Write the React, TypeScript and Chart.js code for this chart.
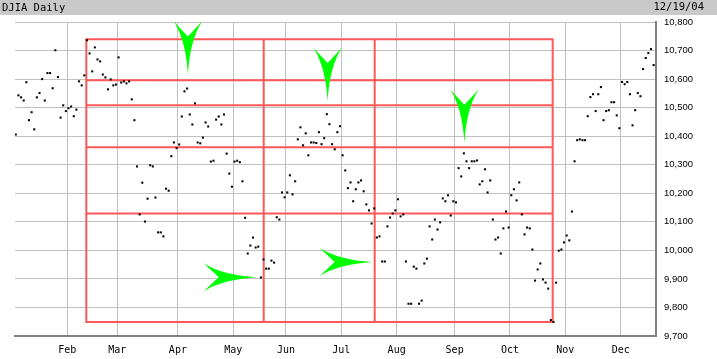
import React, { useEffect, useRef } from "react";
import { Chart, registerables } from "chart.js";

Chart.register(...registerables);

// ---- text ----
const TITLE = "DJIA Daily";
const DATE_LABEL = "12/19/04";
const MONTH_LABELS = ["Jan", "Feb", "Mar", "Apr", "May", "Jun", "Jul", "Aug", "Sep", "Oct", "Nov", "Dec"];

// ---- daily closes (trading days) ----
const jan = [10406, 10543, 10536, 10525, 10589, 10456, 10484, 10424, 10536, 10551, 10600, 10525, 10621, 10621, 10568, 10701, 10607, 10465, 10508, 10488];
const feb = [10498, 10504, 10470, 10493, 10592, 10578, 10613, 10736, 10690, 10627, 10711, 10669, 10662, 10616, 10606, 10564, 10599, 10578, 10581];
const mar = [10676, 10588, 10592, 10585, 10592, 10529, 10456, 10294, 10126, 10237, 10101, 10181, 10298, 10294, 10185, 10063, 10063, 10049, 10216, 10209, 10330, 10378, 10358];
const apr = [10371, 10469, 10557, 10567, 10476, 10441, 10515, 10378, 10375, 10395, 10448, 10434, 10311, 10314, 10458, 10469, 10441, 10476, 10339, 10269, 10223];
const may = [10311, 10314, 10309, 10242, 10114, 9989, 10017, 10045, 10010, 10013, 9905, 9968, 9936, 9936, 9964, 9957, 10116, 10108, 10203, 10186];
const jun = [10203, 10263, 10196, 10242, 10389, 10431, 10368, 10410, 10333, 10378, 10378, 10376, 10414, 10372, 10393, 10477, 10442, 10372, 10354, 10414, 10435];
const jul = [10333, 10280, 10218, 10238, 10172, 10214, 10238, 10245, 10207, 10161, 10140, 10094, 10147, 10045, 10049, 9961, 9961, 10084, 10115, 10129, 10140];
const aug = [10179, 10119, 10126, 9961, 9813, 9813, 9943, 9936, 9813, 9824, 9954, 9971, 10084, 10038, 10108, 10073, 10098, 10182, 10172, 10193, 10122, 10172];
const sep = [10168, 10288, 10259, 10340, 10312, 10288, 10312, 10312, 10315, 10231, 10242, 10284, 10203, 10245, 10108, 10038, 10045, 9989, 10077, 10136, 10080];
const oct = [10193, 10214, 10175, 10238, 10126, 10056, 10080, 10077, 10003, 9894, 9933, 9954, 9898, 9887, 9866, 9756, 9749, 9887, 9999, 10003, 10028];
const nov = [10052, 10035, 10136, 10312, 10386, 10389, 10386, 10386, 10470, 10537, 10547, 10488, 10547, 10572, 10456, 10488, 10491, 10519, 10519, 10473, 10428];
const dec = [10590, 10582, 10590, 10547, 10438, 10491, 10551, 10540, 10635, 10674, 10691, 10705, 10649];

const MONTHS = [jan, feb, mar, apr, may, jun, jul, aug, sep, oct, nov, dec];

// ---- y axis ----
const Y_MIN = 9700;
const Y_MAX = 10800;
const Y_STEP = 100;

// ---- red retracement grid (values) and time lines (trading-day index) ----
const LEVELS = [10740, 10596, 10508, 10361, 10129, 9749];
const TIME_LINES = [26.75, 94.06, 136.17, 203.7];

// ---- green arrows: tip position (trading-day index, value) ----
const ARROWS = [
  { dir: "down", x: 65.3, y: 10616 },
  { dir: "down", x: 118.3, y: 10523 },
  { dir: "down", x: 170.2, y: 10377 },
  { dir: "right", x: 91.4, y: 9906 },
  { dir: "right", x: 135.4, y: 9959 },
];

// derived
const closes: number[] = MONTHS.flat();
const points = closes.map((v, i) => ({ x: i, y: v }));
const monthStarts: number[] = [];
{
  let c = 0;
  for (const m of MONTHS) {
    monthStarts.push(c);
    c += m.length;
  }
}
const tickMap = new Map<number, string>();
monthStarts.forEach((s, i) => {
  if (i > 0) tickMap.set(s - 0.5, MONTH_LABELS[i]);
});

function drawArrow(ctx: CanvasRenderingContext2D, tx: number, ty: number, dir: string) {
  const L = 53;
  const W = 14;
  const N = 15;
  ctx.save();
  ctx.translate(tx, ty);
  if (dir === "right") ctx.rotate(-Math.PI / 2);
  ctx.beginPath();
  ctx.moveTo(0, 0);
  ctx.quadraticCurveTo(-2, -34, -W, -L);
  ctx.lineTo(0, -L + N);
  ctx.lineTo(W, -L);
  ctx.quadraticCurveTo(2, -34, 0, 0);
  ctx.closePath();
  ctx.fillStyle = "#00ff00";
  ctx.fill();
  ctx.restore();
}

const overlayPlugin = {
  id: "overlay",
  beforeDraw(chart: any) {
    const ctx = chart.ctx as CanvasRenderingContext2D;
    ctx.save();
    ctx.fillStyle = "#ffffff";
    ctx.fillRect(0, 0, chart.width, chart.height);
    ctx.fillStyle = "#c9c9c9";
    ctx.fillRect(0, 0, chart.width, 15);
    ctx.fillStyle = "#000000";
    ctx.font = "10.5px 'DejaVu Sans Mono'";
    ctx.textBaseline = "middle";
    ctx.textAlign = "left";
    ctx.fillText(TITLE, 2, 8);
    ctx.textAlign = "right";
    ctx.fillText(DATE_LABEL, 704, 7.5);
    ctx.restore();
  },
  beforeDatasetsDraw(chart: any) {
    const ctx = chart.ctx as CanvasRenderingContext2D;
    const xs = chart.scales.x;
    const ys = chart.scales.y;
    const x0 = xs.getPixelForValue(TIME_LINES[0]);
    const x1 = xs.getPixelForValue(TIME_LINES[TIME_LINES.length - 1]);
    const yTop = ys.getPixelForValue(LEVELS[0]);
    const yBot = ys.getPixelForValue(LEVELS[LEVELS.length - 1]);
    ctx.save();
    ctx.strokeStyle = "#ff5858";
    ctx.lineWidth = 2;
    ctx.beginPath();
    for (const lv of LEVELS) {
      const y = ys.getPixelForValue(lv);
      ctx.moveTo(x0 - 1, y);
      ctx.lineTo(x1 + 1, y);
    }
    for (const t of TIME_LINES) {
      const x = xs.getPixelForValue(t);
      ctx.moveTo(x, yTop - 1);
      ctx.lineTo(x, yBot + 1);
    }
    ctx.stroke();
    ctx.restore();
  },
  afterDatasetsDraw(chart: any) {
    const ctx = chart.ctx as CanvasRenderingContext2D;
    const xs = chart.scales.x;
    const ys = chart.scales.y;
    for (const a of ARROWS) {
      drawArrow(ctx, xs.getPixelForValue(a.x), ys.getPixelForValue(a.y), a.dir);
    }
  },
};

export default function App() {
  const ref = useRef<HTMLCanvasElement | null>(null);

  useEffect(() => {
    document.body.style.margin = "0";
    const canvas = ref.current;
    if (!canvas) return;
    const chart = new Chart(canvas, {
      type: "scatter",
      data: {
        datasets: [
          {
            data: points,
            pointStyle: "rect",
            pointRadius: 1.45,
            pointHoverRadius: 1.45,
            pointBackgroundColor: "#000000",
            pointBorderWidth: 0,
            showLine: false,
          },
        ],
      },
      options: {
        animation: false,
        responsive: false,
        devicePixelRatio: 1,
        events: [],
        layout: { padding: { top: 22, left: 15, right: 0, bottom: 0 } },
        plugins: {
          legend: { display: false },
          tooltip: { enabled: false },
        },
        scales: {
          x: {
            type: "linear",
            min: -0.3,
            max: 242.9,
            afterBuildTicks: (scale: any) => {
              scale.ticks = Array.from(tickMap.keys()).map((v) => ({ value: v }));
            },
            afterFit: (scale: any) => {
              scale.height = 23;
            },
            grid: { color: "#c0c0c0", lineWidth: 1, drawTicks: false },
            border: { display: true, color: "#808080", width: 2 },
            ticks: {
              autoSkip: false,
              maxRotation: 0,
              minRotation: 0,
              padding: 8,
              color: "#000000",
              font: { family: "'DejaVu Sans Mono'", size: 10 },
              callback: (v: any) => tickMap.get(Number(v)) ?? "",
            },
          },
          y: {
            position: "right",
            min: Y_MIN,
            max: Y_MAX,
            afterFit: (scale: any) => {
              scale.width = 61;
            },
            grid: { color: "#c0c0c0", lineWidth: 1, drawTicks: false },
            border: { display: true, color: "#808080", width: 2 },
            ticks: {
              stepSize: Y_STEP,
              padding: 8,
              color: "#000000",
              font: { family: "'Liberation Sans'", size: 9.5 },
              callback: (v: any) => Number(v).toLocaleString("en-US"),
            },
          },
        },
      },
      plugins: [overlayPlugin],
    } as any);
    return () => chart.destroy();
  }, []);

  return (
    <div style={{ width: 717, height: 359 }}>
      <canvas ref={ref} width={717} height={359} style={{ display: "block", width: 717, height: 359 }} />
    </div>
  );
}
